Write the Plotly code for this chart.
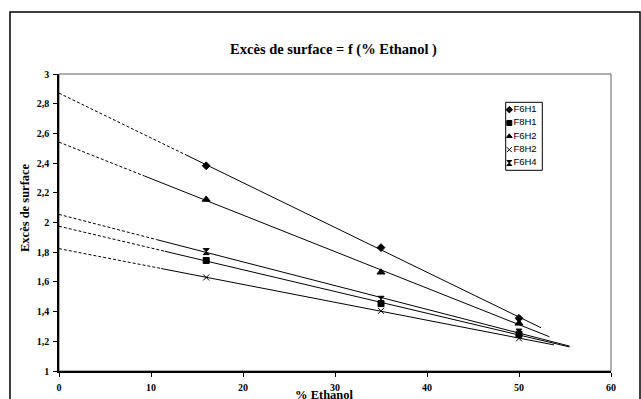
import numpy as np
import plotly.graph_objects as go

ethanol = [16, 35, 50]
series_names = ["F6H1", "F8H1", "F6H2", "F8H2", "F6H4"]
F6H1 = [2.382, 1.831, 1.355]
F8H1 = [1.744, 1.454, 1.247]
F6H2 = [2.155, 1.665, 1.321]
F8H2 = [1.630, 1.405, 1.220]
F6H4 = [1.804, 1.483, 1.262]
values = [F6H1, F8H1, F6H2, F8H2, F6H4]
# trendline: backward forecast (dashed) from 0 until solid_start, then solid until trend_end
solid_start = [13.9, 11.5, 9.3, 11.1, 10.6]
trend_end = [52.4, 55.5, 53.3, 53.8, 55.5]
symbols = ["diamond", "square", "triangle-up", "x-thin-open", "hourglass"]
sizes = [6, 6, 7, 6, 6]
legend_rows = [1, 2, 3, 4, 5]

W, H = 641, 399
L, R, T, B = 59, 611, 74, 371
PW, PH = R - L, B - T


def px(x):
    return (x - L) / PW


def py(y):
    return (B - y) / PH


fig = go.Figure()
for name, ys, s0, s1 in zip(series_names, values, solid_start, trend_end):
    slope, icpt = np.polyfit(ethanol, ys, 1)
    xd = np.array([0, s0])
    xs = np.array([s0, s1])
    fig.add_trace(go.Scatter(x=xd, y=icpt + slope * xd, mode="lines",
                             line=dict(color="black", width=1, dash="3px,2px"),
                             showlegend=False, hoverinfo="skip"))
    fig.add_trace(go.Scatter(x=xs, y=icpt + slope * xs, mode="lines",
                             line=dict(color="black", width=1),
                             showlegend=False, hoverinfo="skip"))

for name, ys, sym, sz in zip(series_names, values, symbols, sizes):
    fig.add_trace(go.Scatter(x=ethanol, y=ys, mode="markers", name=name, showlegend=False,
                             marker=dict(symbol=sym, size=sz, color="black",
                                         line=dict(color="black", width=1))))

# compact legend drawn on its own small axes
for name, sym, row in zip(series_names, symbols, legend_rows):
    fig.add_trace(go.Scatter(x=[3.6], y=[row], xaxis="x2", yaxis="y2", mode="markers+text",
                             text=[name], textposition="middle right",
                             textfont=dict(family="Liberation Sans, Arial, sans-serif", size=9.5, color="black"),
                             marker=dict(symbol=sym, size=5, color="black",
                                         line=dict(color="black", width=1)),
                             showlegend=False, hoverinfo="skip", cliponaxis=False))

serif = "Liberation Serif, Times New Roman, serif"
leg_x0, leg_x1, leg_y0, leg_y1 = 505.7, 542.3, 102.3, 170.3
fig.update_layout(
    width=W, height=H,
    margin=dict(l=L, r=W - R, t=T, b=H - B, autoexpand=False),
    paper_bgcolor="white", plot_bgcolor="white",
    separators=", ",
    font=dict(family=serif, color="black"),
    title=dict(text="<b>Excès de surface = f (% Ethanol )</b>", x=(334 - 0.5) / W, xanchor="center",
               y=1 - 49 / H, yanchor="middle", font=dict(family=serif, size=14.5)),
    showlegend=False,
    xaxis=dict(range=[0, 60], dtick=10, tick0=0, showgrid=False, zeroline=False,
               showline=True, linecolor="black", linewidth=1.5, automargin=False,
               ticks="outside", ticklen=4, tickcolor="black", ticklabelstandoff=2,
               tickfont=dict(family=serif, size=10, weight="bold")),
    yaxis=dict(range=[1, 3], dtick=0.2, tick0=1, showgrid=False, zeroline=False,
               showline=True, linecolor="black", linewidth=1.5, automargin=False,
               ticks="outside", ticklen=4, tickcolor="black", ticklabelstandoff=2,
               tickfont=dict(family=serif, size=10, weight="bold")),
    xaxis2=dict(domain=[px(leg_x0), px(leg_x1)], range=[0, leg_x1 - leg_x0], anchor="y2",
                visible=False, fixedrange=True),
    yaxis2=dict(domain=[py(leg_y1), py(leg_y0)], range=[5.55, 0.45], anchor="x2",
                visible=False, fixedrange=True),
)
fig.add_annotation(text="<b>Excès de surface</b>", xref="paper", yref="paper",
                   x=px(25), y=py(208), xanchor="center", yanchor="middle", textangle=-90,
                   showarrow=False, font=dict(family=serif, size=12.5))
fig.add_annotation(text="<b>% Ethanol</b>", xref="paper", yref="paper",
                   x=px(324), y=py(395), xanchor="center", yanchor="middle",
                   showarrow=False, font=dict(family=serif, size=12.5))
# plot area top/right border
fig.add_shape(type="rect", xref="paper", yref="paper", x0=0, x1=1, y0=0, y1=1,
              line=dict(color="#606060", width=1), layer="below")
# legend box
fig.add_shape(type="rect", xref="paper", yref="paper", x0=px(leg_x0), x1=px(leg_x1),
              y0=py(leg_y1), y1=py(leg_y0), line=dict(color="black", width=1))
# outer chart border
fig.add_shape(type="rect", xref="paper", yref="paper",
              x0=px(10), x1=px(640), y0=py(420), y1=py(12),
              line=dict(color="black", width=1.5))
fig.write_html("out.html", post_script="document.body.style.margin='0px';",
               config={"displayModeBar": False})
